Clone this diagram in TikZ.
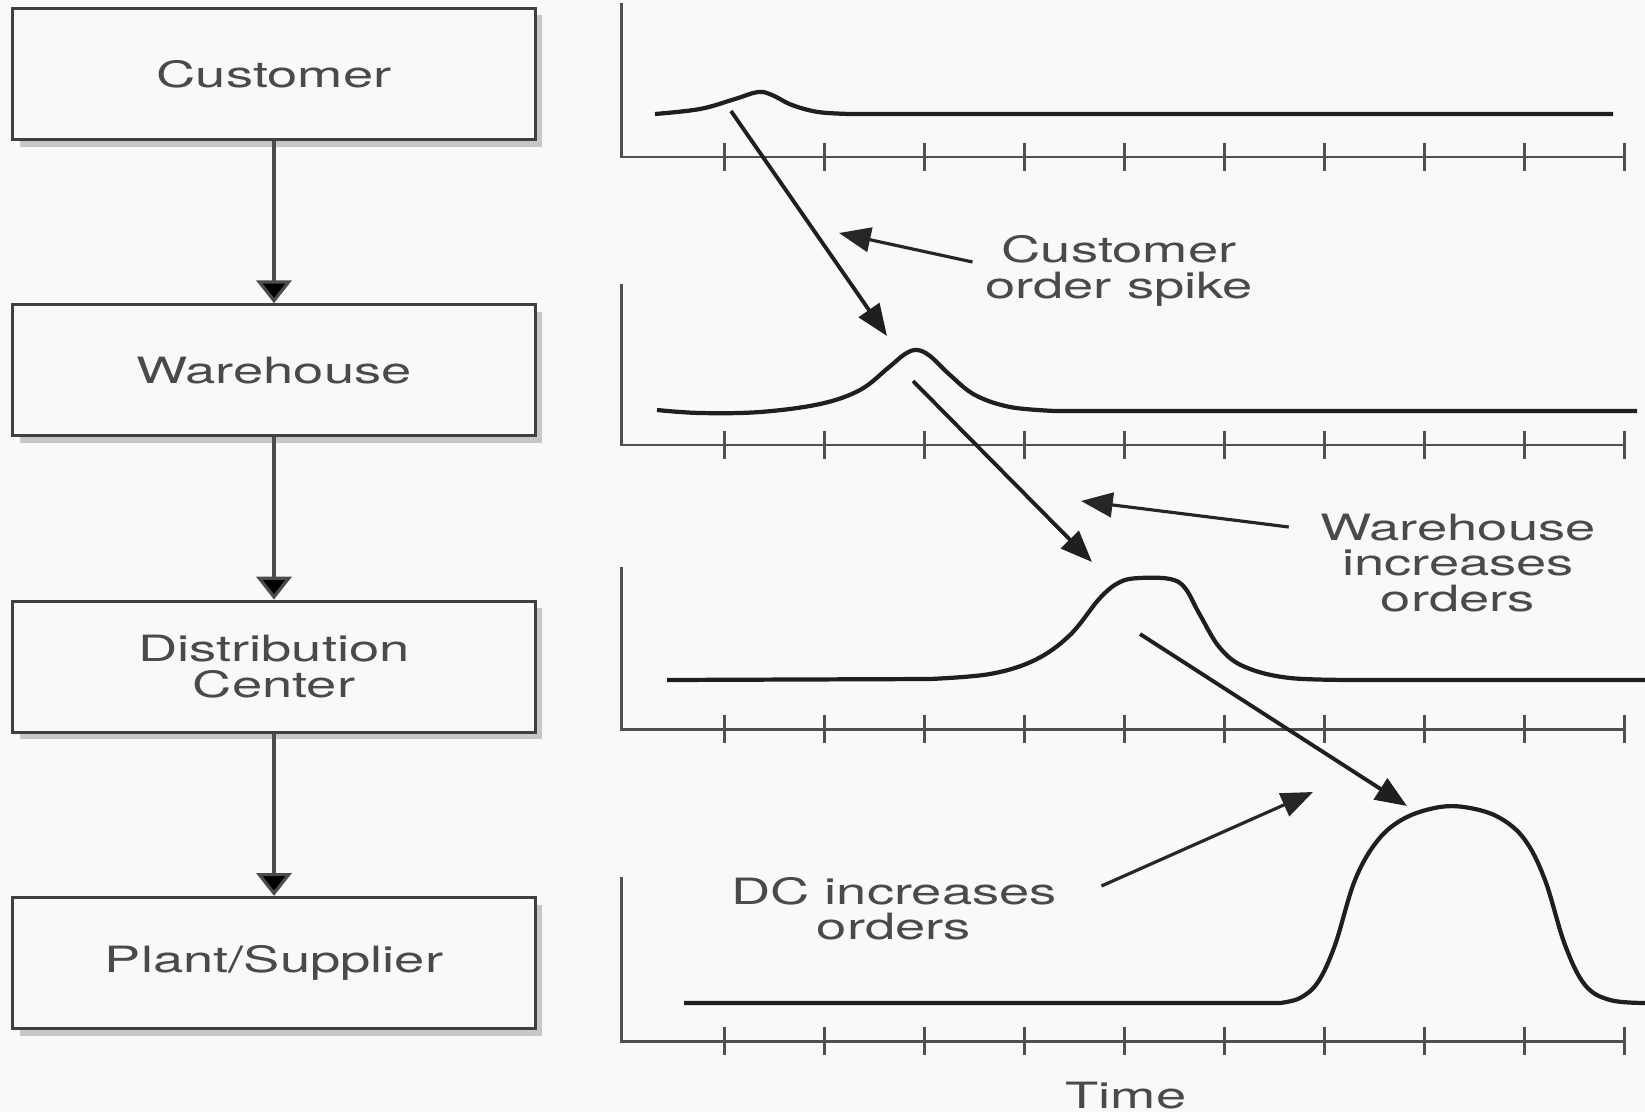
\documentclass[tikz,border=0pt]{standalone}
\usepackage{fontspec}
\setmainfont{TeX Gyre Heros}[FakeStretch=1.5]
\usepackage{tikz}
\usetikzlibrary{arrows.meta}
\usetikzlibrary{shapes, positioning, calc, shadows}
\definecolor{inkgray}{HTML}{4A4A4A}
\definecolor{axisgray}{HTML}{505050}
\definecolor{paper}{HTML}{F9F9F9}

\begin{document}
\begin{tikzpicture}[x=0.01cm, y=-0.01cm, >={Triangle[length=9pt,width=7pt]},
  font=\fontsize{10.3}{10}\selectfont,
  sq node/.style={rectangle, draw=black!75, line width=0.9pt, fill=paper, text=inkgray,
    minimum width=5.22cm, minimum height=1.31cm, align=center,
    drop shadow={shadow xshift=2pt, shadow yshift=-2pt, fill=black!22, opacity=1}},
  flow/.style={->, >={Triangle[length=6.5pt,width=10pt]}, draw=black!70, line width=0.9pt},
  axis/.style={draw=axisgray, line width=0.85pt},
  curve/.style={draw=black!88, line width=1.2pt, line join=round},
  spike/.style={->, draw=black!88, line width=1.1pt},
  note/.style={align=center, inner sep=0pt, text=inkgray},
  pointer/.style={->, draw=black!85, line width=0.9pt}]
  \fill[paper] (0,0) rectangle (1645,1112);
  \useasboundingbox (0,0) rectangle (1645,1112);

  \node[sq node] (cust) at (274,74) {Customer};
  \node[sq node, below=1.62cm of cust] (wh) {Warehouse};
  \node[sq node, below=1.62cm of wh] (dc) {Distribution\\Center};
  \node[sq node, below=1.62cm of dc] (plant) {Plant/Supplier};
  \path[flow]
    (cust) edge (wh)
    (wh) edge (dc)
    (dc) edge (plant);

  \foreach \ytop/\ybase in {3/157, 284/445, 567/729, 877/1041} {
    \draw[axis] (621,\ytop) |- (1626,\ybase);
    \foreach \t in {724,824,...,1624}
      \draw[axis] (\t,\ybase-14) -- (\t,\ybase+14);
  }

  \draw[curve] plot[smooth, tension=0.6] coordinates {(655,114) (700,109) (735,99)
    (758,92) (772,95) (792,105) (818,112) (850,114)} -- (1613,114);
  \draw[curve] plot[smooth, tension=0.6] coordinates {(657,410) (700,413) (760,412)
    (820,404) (860,390) (888,368) (905,354) (917,350) (930,356) (950,375) (975,395)
    (1010,407) (1055,411)} -- (1637,411);
  \draw[curve] (667,680) -- plot[smooth, tension=0.6] coordinates {(930,679) (990,674)
    (1035,660) (1070,635) (1100,598) (1120,582) (1140,578) (1170,579) (1185,588)
    (1200,615) (1220,648) (1245,667) (1290,678) (1360,680)} -- (1645,680);
  \draw[curve] (684,1003) -- plot[smooth, tension=0.6] coordinates {(1280,1003)
    (1300,998) (1318,982) (1335,945) (1355,880) (1378,840) (1405,818) (1440,807)
    (1470,808) (1500,818) (1525,840) (1545,880) (1565,945) (1585,985) (1610,1000)
    (1645,1003)};

  \coordinate (pk1) at (731,111);
  \coordinate (hit1) at (887,336);
  \coordinate (pk2) at (913,381);
  \coordinate (hit2) at (1092,562);
  \coordinate (pk3) at (1140,634);
  \coordinate (hit3) at (1407,806);
  \draw[spike] (pk1) -- (hit1);
  \draw[spike] (pk2) -- (hit2);
  \draw[spike] (pk3) -- (hit3);

  \node[note] (lab1) at (1119,271) {Customer\\order spike};
  \node[note] (lab2) at (1458,563) {Warehouse\\increases\\orders};
  \node[note] (lab3) at (894,909) {DC increases\\orders};
  \node[note] (time) at (1126,1096) {Time};
  \coordinate (tip1) at (839,233);
  \coordinate (tip2) at (1081,501);
  \coordinate (tip3) at (1313,792);
  \draw[pointer] ($(lab1.west)+(-12,-9)$) -- (tip1);
  \draw[pointer] ($(lab2.west)+(-31,-36)$) -- (tip2);
  \draw[pointer] ($(lab3.east)+(44,-23)$) -- (tip3);
\end{tikzpicture}
\end{document}
